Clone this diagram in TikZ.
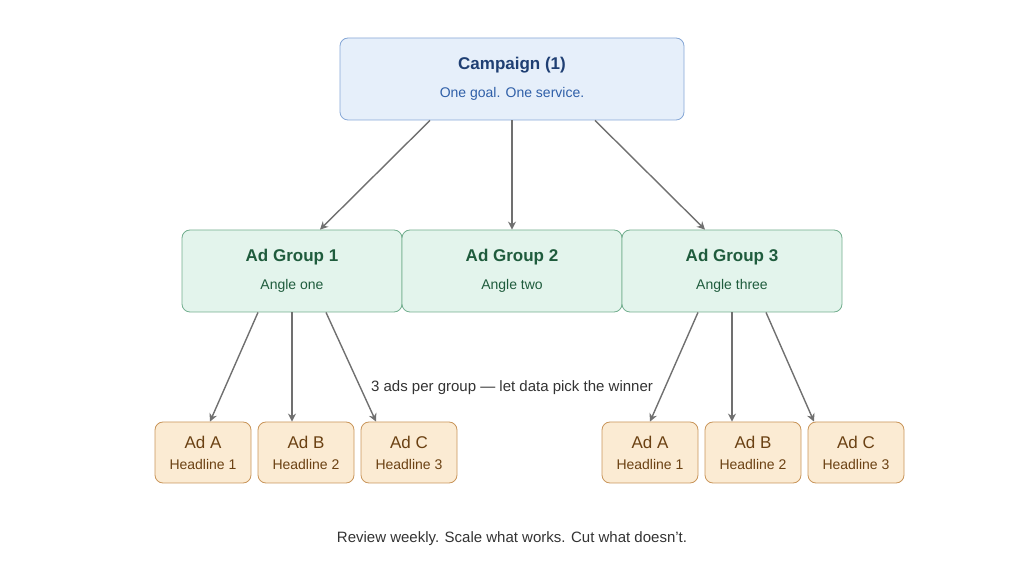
\documentclass[tikz,border=0pt]{standalone}
\usepackage{fontspec}
\setmainfont{Liberation Sans}
\usetikzlibrary{calc, arrows.meta}
\definecolor{campfill}{HTML}{E6EFFA}
\definecolor{campdraw}{HTML}{86A7D6}
\definecolor{camptext}{HTML}{1F3F73}
\definecolor{campsub}{HTML}{2F5FA8}
\definecolor{grpfill}{HTML}{E3F4EC}
\definecolor{grpdraw}{HTML}{72AE8E}
\definecolor{grptext}{HTML}{1F5C3D}
\definecolor{adfill}{HTML}{FBEBD3}
\definecolor{addraw}{HTML}{C9955A}
\definecolor{adtext}{HTML}{6B4113}
\definecolor{wire}{HTML}{707070}
\tikzstyle{camp}=[draw=campdraw, fill=campfill, rounded corners=4pt, minimum width=172pt, minimum height=41pt, align=center, font=\fontsize{8.5}{13}\selectfont, text=camptext]
\tikzstyle{grp}=[draw=grpdraw, fill=grpfill, rounded corners=4pt, minimum width=110pt, minimum height=41pt, align=center, font=\fontsize{8.5}{13}\selectfont, text=grptext]
\tikzstyle{ad}=[draw=addraw, fill=adfill, rounded corners=4pt, minimum width=48pt, minimum height=30.5pt, align=center, font=\fontsize{8.5}{10.5}\selectfont, text=adtext]
\tikzstyle{link}=[draw=wire, line width=0.7pt, -{Stealth[length=4pt,width=4pt]}]
\begin{document}
\begin{tikzpicture}[x=0.5pt,y=-0.5pt]
      \useasboundingbox (0,0) rectangle (1024,561);

      \node [camp] (camp) at (512,79) {\textbf{Campaign (1)}\\[1pt]{\fontsize{7}{9}\selectfont\color{campsub}One goal. One service.}};

      \node [grp] (g1) at (292,271) {\textbf{Ad Group 1}\\[1pt]{\fontsize{7}{9}\selectfont Angle one}};
      \node [grp] (g2) at (512,271) {\textbf{Ad Group 2}\\[1pt]{\fontsize{7}{9}\selectfont Angle two}};
      \node [grp] (g3) at (732,271) {\textbf{Ad Group 3}\\[1pt]{\fontsize{7}{9}\selectfont Angle three}};

      \node [ad] (a1) at (203,452.5) {Ad A\\{\fontsize{7}{9}\selectfont Headline 1}};
      \node [ad] (b1) at (306,452.5) {Ad B\\{\fontsize{7}{9}\selectfont Headline 2}};
      \node [ad] (c1) at (409,452.5) {Ad C\\{\fontsize{7}{9}\selectfont Headline 3}};
      \node [ad] (a3) at (650,452.5) {Ad A\\{\fontsize{7}{9}\selectfont Headline 1}};
      \node [ad] (b3) at (753,452.5) {Ad B\\{\fontsize{7}{9}\selectfont Headline 2}};
      \node [ad] (c3) at (856,452.5) {Ad C\\{\fontsize{7}{9}\selectfont Headline 3}};

      \node [fill=white, inner sep=1pt, font=\fontsize{7.5}{9}\selectfont, text=black!80] (note) at (512,388) {3 ads per group — let data pick the winner};
      \node [font=\fontsize{7.5}{9}\selectfont, text=black!80] (foot) at (512,539) {Review weekly. Scale what works. Cut what doesn't.};

      \path[link] ([xshift=-41pt]camp.south) -- ([xshift=14pt]g1.north);
      \path[link] (camp.south) -- (g2.north);
      \path[link] ([xshift=41.5pt]camp.south) -- ([xshift=-13.5pt]g3.north);

      \path[link] ([xshift=-17pt]g1.south) -- ([xshift=3.5pt]a1.north);
      \path[link] (g1.south) -- (g1.south |- b1.north);
      \path[link] ([xshift=17pt]g1.south) -- ([xshift=-16.5pt]c1.north);
      \path[link] ([xshift=-17pt]g3.south) -- (a3.north);
      \path[link] (g3.south) -- (g3.south |- b3.north);
      \path[link] ([xshift=17pt]g3.south) -- ([xshift=-21pt]c3.north);
  \end{tikzpicture}
\end{document}
